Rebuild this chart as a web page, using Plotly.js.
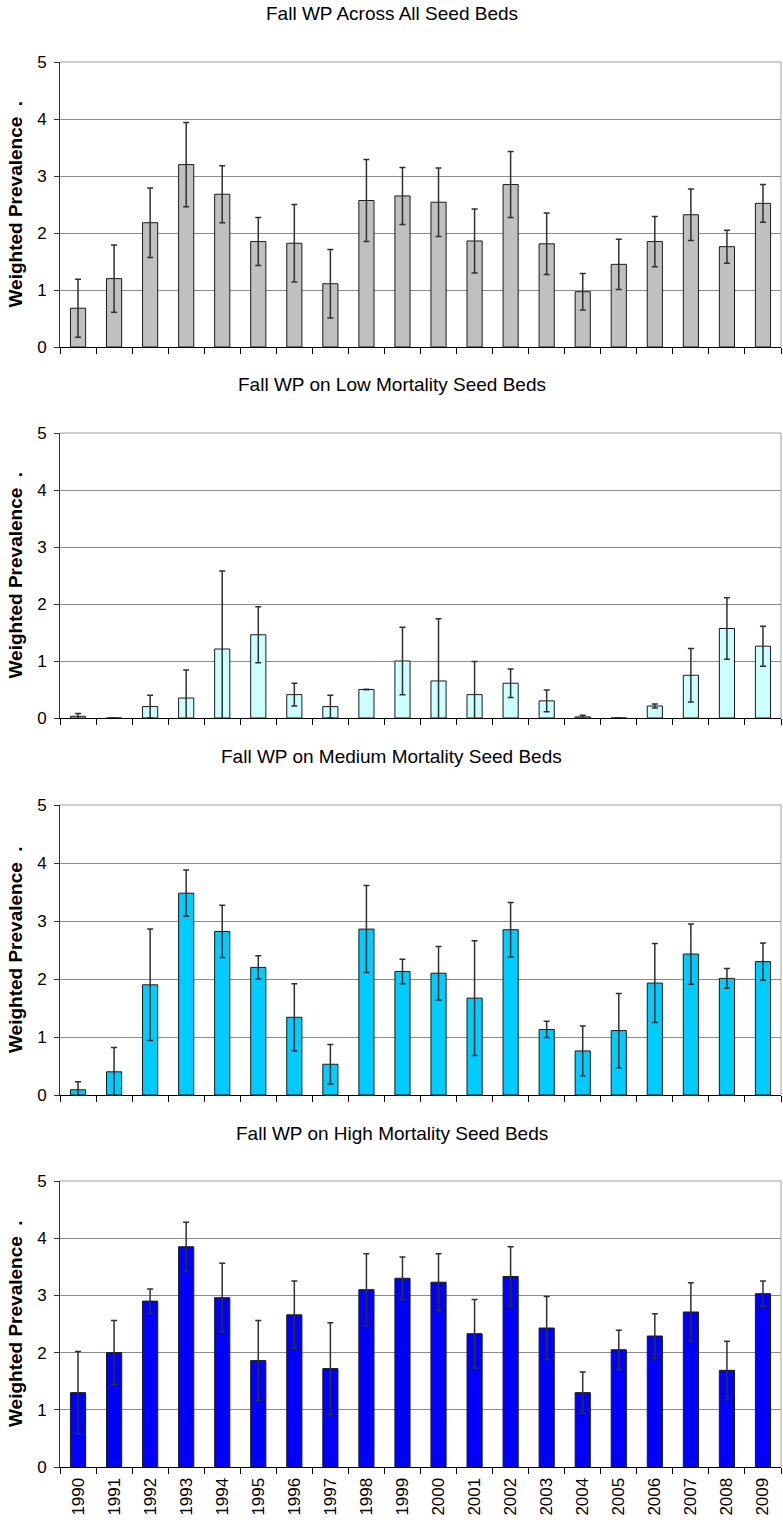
<!DOCTYPE html>
<html>
<head>
<meta charset="utf-8">
<script src="https://cdn.plot.ly/plotly-3.0.1.min.js"></script>
<style>
  html, body { margin: 0; padding: 0; background: #fff; }
  #chart { width: 783px; height: 1528px; }
</style>
</head>
<body>
<div id="chart"></div>
<script>
// Fall weighted prevalence by year, with error bars, for each seed-bed group
const years = ['1990','1991','1992','1993','1994','1995','1996','1997','1998','1999',
               '2000','2001','2002','2003','2004','2005','2006','2007','2008','2009'];

const allBeds  = [0.68, 1.20, 2.18, 3.20, 2.68, 1.85, 1.82, 1.11, 2.57, 2.65,
                  2.54, 1.86, 2.85, 1.81, 0.97, 1.45, 1.85, 2.32, 1.76, 2.52];
const allErr   = [0.51, 0.59, 0.61, 0.74, 0.50, 0.42, 0.68, 0.60, 0.72, 0.50,
                  0.60, 0.56, 0.58, 0.54, 0.32, 0.44, 0.44, 0.45, 0.29, 0.33];

const lowBeds  = [0.03, 0.00, 0.20, 0.35, 1.21, 1.46, 0.41, 0.20, 0.50, 1.00,
                  0.65, 0.41, 0.61, 0.30, 0.02, 0.00, 0.21, 0.75, 1.57, 1.26];
const lowErr   = [0.05, 0.00, 0.20, 0.49, 1.37, 0.49, 0.20, 0.20, 0.005, 0.59,
                  1.09, 0.58, 0.25, 0.19, 0.03, 0.00, 0.035, 0.47, 0.54, 0.35];

const medBeds  = [0.09, 0.40, 1.90, 3.48, 2.82, 2.20, 1.34, 0.53, 2.86, 2.13,
                  2.10, 1.67, 2.85, 1.13, 0.76, 1.11, 1.93, 2.43, 2.01, 2.30];
const medErr   = [0.14, 0.42, 0.96, 0.40, 0.45, 0.20, 0.58, 0.34, 0.75, 0.21,
                  0.46, 0.99, 0.47, 0.14, 0.43, 0.64, 0.68, 0.52, 0.17, 0.32];

const highBeds = [1.30, 2.00, 2.90, 3.85, 2.96, 1.86, 2.66, 1.72, 3.10, 3.30,
                  3.23, 2.33, 3.33, 2.43, 1.30, 2.05, 2.29, 2.71, 1.69, 3.03];
const highErr  = [0.72, 0.56, 0.21, 0.43, 0.60, 0.70, 0.59, 0.80, 0.63, 0.37,
                  0.50, 0.60, 0.52, 0.55, 0.36, 0.34, 0.39, 0.51, 0.51, 0.22];

const panelTitles = ['Fall WP Across All Seed Beds',
                     'Fall WP on Low Mortality Seed Beds',
                     'Fall WP on Medium Mortality Seed Beds',
                     'Fall WP on High Mortality Seed Beds'];
const yTitle = 'Weighted Prevalence\u00A0\u00A0.';

const panels = [
  { y: allBeds,  err: allErr,  fill: '#C0C0C0', top: 62,  bottom: 347 },
  { y: lowBeds,  err: lowErr,  fill: '#CCFFFF', top: 433, bottom: 718 },
  { y: medBeds,  err: medErr,  fill: '#00CCFF', top: 805, bottom: 1095 },
  { y: highBeds, err: highErr, fill: '#0000FF', top: 1181, bottom: 1467 }
];

const W = 783, H = 1528;
const M = { l: 60, r: 2, t: 0, b: 0 };
const plotW = W - M.l - M.r;
const FONT = 'Arial, "Liberation Sans", sans-serif';

const traces = [];
const layout = {
  width: W, height: H,
  margin: M,
  paper_bgcolor: '#ffffff',
  plot_bgcolor: '#ffffff',
  showlegend: false,
  bargap: 0.58,
  font: { family: FONT, color: '#000000', size: 17 },
  annotations: [],
  shapes: []
};

panels.forEach((p, i) => {
  const n = i === 0 ? '' : String(i + 1);
  traces.push({
    type: 'bar',
    x: years,
    y: p.y,
    xaxis: 'x' + n,
    yaxis: 'y' + n,
    marker: { color: p.fill, line: { color: '#1a1a1a', width: 1 } },
    error_y: { type: 'data', array: p.err, visible: true,
               color: '#303030', thickness: 1.5, width: 3 },
    hoverinfo: 'x+y'
  });

  const dom = [1 - p.bottom / H, 1 - p.top / H];
  layout['xaxis' + n] = {
    domain: [0, 1],
    anchor: 'y' + n,
    type: 'category',
    showline: true, linecolor: '#000000', linewidth: 1,
    ticks: 'outside', ticklen: 6, tickcolor: '#000000', tickwidth: 1,
    tickson: 'boundaries',
    showgrid: false,
    showticklabels: i === 3,
    tickangle: -90,
    ticklabelstandoff: 3,
    tickfont: { family: FONT, size: 17, color: '#000000' },
    fixedrange: true
  };
  layout['yaxis' + n] = {
    domain: dom,
    anchor: 'x' + n,
    range: [0, 5],
    dtick: 1,
    showline: true, linecolor: '#333333', linewidth: 1,
    ticks: 'outside', ticklen: 5, tickcolor: '#333333', tickwidth: 1,
    ticklabelstandoff: 4,
    showgrid: true, gridcolor: '#8c8c8c', gridwidth: 1,
    zeroline: false,
    tickfont: { family: FONT, size: 17, color: '#000000' },
    fixedrange: true
  };

  // light frame on the top and right of each plot area
  layout.shapes.push({
    type: 'path', xref: 'x' + n + ' domain', yref: 'y' + n + ' domain',
    path: 'M 0 1 L 1 1 L 1 0',
    line: { color: '#a0a0a0', width: 1 }, layer: 'below'
  });

  // panel title
  layout.annotations.push({
    text: panelTitles[i],
    xref: 'paper', yref: 'paper',
    x: (W / 2 - M.l) / plotW, y: 1 - (p.top - 48) / H,
    xanchor: 'center', yanchor: 'middle', showarrow: false,
    font: { family: FONT, size: 19, color: '#000000' }
  });

  // vertical axis title
  layout.annotations.push({
    text: yTitle,
    xref: 'paper', yref: 'paper',
    x: (15 - M.l) / plotW, y: 1 - ((p.top + p.bottom) / 2) / H,
    xanchor: 'center', yanchor: 'middle', showarrow: false,
    textangle: -90,
    font: { family: FONT, size: 19, color: '#000000', weight: 'bold' }
  });
});

Plotly.newPlot('chart', traces, layout, { displayModeBar: false, staticPlot: true });
</script>
</body>
</html>
